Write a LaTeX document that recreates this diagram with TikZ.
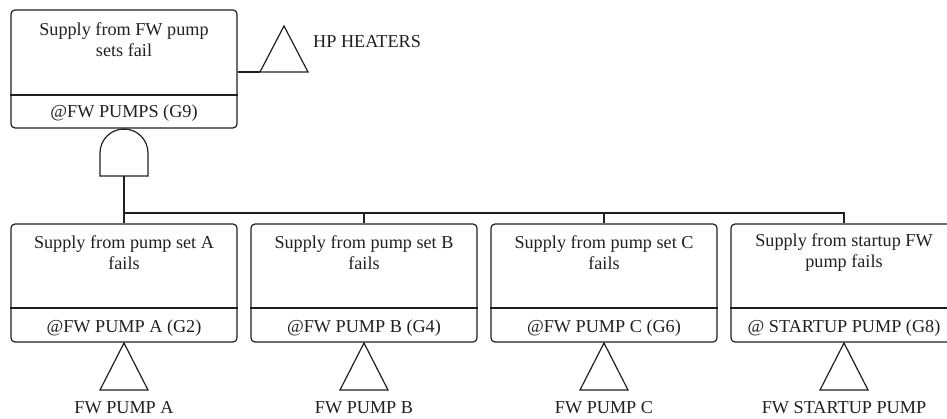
\documentclass[tikz,border=0pt]{standalone}
\usepackage{fontspec}
\setmainfont{Liberation Serif}
\definecolor{ink}{HTML}{231F20}
\begin{document}
\begin{tikzpicture}[x=1pt,y=-1pt,
  gatebox/.style={draw=ink, rounded corners=4pt, line width=1.2pt,
    minimum width=226pt, minimum height=118pt, inner sep=0pt},
  txt/.style={font=\fontsize{18.2}{21}\selectfont, text=ink, align=center, inner sep=0pt},
  wire/.style={line width=1.2pt, draw=ink},
  event/.style={line width=1.2pt, draw=ink, line join=miter}]
\useasboundingbox (0,0) rectangle (947,419);
\clip (0,0) rectangle (947,419);

% top event: gate G9
\node[gatebox] (top) at (124,69) {};
\draw[wire] (top.west |- 0,95) -- (top.east |- 0,95);
\node[txt] (topT) at (124,40) {Supply from FW pump\\sets fail};
\node[txt, anchor=base] (topC) at (124,118) {@FW PUMPS (G9)};

% transfer to HP HEATERS
\coordinate (hpL) at (260,72);
\coordinate (hpR) at (308,72);
\coordinate (hpA) at (284,26);
\draw[event] (hpL) -- (hpA) -- (hpR) -- cycle;
\draw[wire] (top.east |- hpL) -- (hpL);
\node[txt, anchor=base west] (hpT) at (313,48) {HP HEATERS};

% AND gate
\coordinate (andT) at (124,129);
\coordinate (andB) at (124,176);
\draw[event] (100,176) -- (100,153) arc[start angle=180, end angle=0, radius=24pt] -- (148,176) -- cycle;
\draw[wire] (andT) -- (top.south);

% lower gates
\foreach \n/\x/\la/\lb/\code/\tr in {
    gA/124/Supply from pump set A/fails/@FW PUMP A (G2)/FW PUMP A,
    gB/364/Supply from pump set B/fails/@FW PUMP B (G4)/FW PUMP B,
    gC/604/Supply from pump set C/fails/@FW PUMP C (G6)/FW PUMP C,
    gD/844/Supply from startup FW/pump fails/@ STARTUP PUMP (G8)/FW STARTUP PUMP}{
  \node[gatebox] (\n) at (\x,283) {};
  \draw[wire] (\n.west |- 0,308) -- (\n.east |- 0,308);
  \node[txt] (\n T) at (\x,253) {\la\\\lb};
  \node[txt, anchor=base] (\n C) at (\x,332) {\code};
  \coordinate (\n tA) at (\x,343);
  \draw[event] (\n tA) -- (\x-24,390) -- (\x+24,390) -- cycle;
  \node[txt, anchor=base] (\n L) at (\x,413) {\tr};
}

% connections from the AND gate
\coordinate (bus) at (124,213);
\draw[wire] (andB) -- (gA.north);
\draw[wire] (bus) -- (bus -| gD.north) -- (gD.north);
\draw[wire] (bus -| gB.north) -- (gB.north);
\draw[wire] (bus -| gC.north) -- (gC.north);
\end{tikzpicture}
\end{document}
